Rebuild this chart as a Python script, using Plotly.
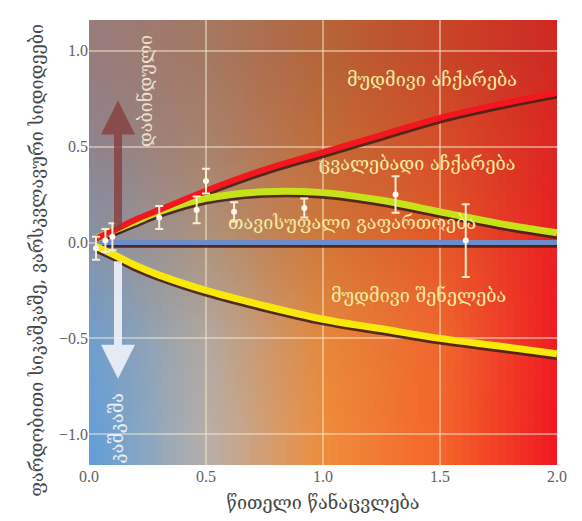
import base64
import struct
import zlib

import plotly.graph_objects as go

# ---------------- data ----------------
curve_x = [0.03, 0.1, 0.2, 0.3, 0.5, 0.75, 1.0, 1.25, 1.5, 1.75, 2.0]
const_accel = [0.02, 0.06, 0.12, 0.17, 0.27, 0.38, 0.47, 0.56, 0.65, 0.72, 0.78]
var_accel = [0.02, 0.06, 0.11, 0.16, 0.23, 0.265, 0.26, 0.22, 0.16, 0.10, 0.05]
free_exp = [0.0, 0.0, 0.0, 0.0, 0.0, 0.0, 0.0, 0.0, 0.0, 0.0, 0.0]
const_decel = [-0.02, -0.06, -0.12, -0.17, -0.25, -0.33, -0.40, -0.45, -0.50, -0.54, -0.58]

obs_x = [0.03, 0.07, 0.10, 0.30, 0.46, 0.50, 0.62, 0.92, 1.31, 1.61]
obs_y = [-0.03, 0.01, 0.03, 0.13, 0.17, 0.32, 0.16, 0.18, 0.25, 0.01]
obs_err = [0.06, 0.06, 0.07, 0.06, 0.07, 0.065, 0.05, 0.05, 0.095, 0.19]

x_ticks = [0.0, 0.5, 1.0, 1.5, 2.0]
x_ticklabels = ["0.0", "0.5", "1.0", "1.5", "2.0"]
y_ticks = [-1.0, -0.5, 0.0, 0.5, 1.0]
y_ticklabels = ["\u22121.0", "\u22120.5", "0.0", "0.5", "1.0"]

x_title = "წითელი წანაცვლება"
y_title = "ფარდობითი სიკაშკაშე, ვარსკვლავური სიდიდეები"
label_const_accel = "მუდმივი აჩქარება"
label_var_accel = "ცვალებადი აჩქარება"
label_free = "თავისუფალი გაფართოება"
label_decel = "მუდმივი შენელება"
label_dim = "დაბინდული"
label_bright = "კაშკაშა"

# ---------------- style ----------------
X_RANGE = [0, 2.0]
Y_RANGE = [-1.16, 1.16]
SHADOW = 0.014  # shadow offset in y units (~3px)

# background colour samples (rows top->bottom at y=1,0.5,0,-0.5,-1 ; cols x=0..2)
bg_rows = [
    [(152, 125, 125), (165, 120, 98), (182, 100, 56), (200, 70, 40), (208, 40, 34)],
    [(142, 132, 142), (170, 130, 108), (195, 108, 55), (215, 78, 40), (222, 36, 34)],
    [(135, 148, 170), (175, 148, 125), (212, 120, 55), (230, 88, 40), (235, 30, 35)],
    [(112, 158, 205), (180, 168, 158), (230, 135, 58), (240, 102, 45), (240, 26, 35)],
    [(100, 160, 215), (185, 175, 168), (240, 140, 58), (245, 100, 42), (240, 22, 32)],
]


def png_data_uri(rows):
    h = len(rows)
    w = len(rows[0])
    raw = b"".join(b"\x00" + bytes([v for px in row for v in px]) for row in rows)

    def chunk(tag, data):
        c = struct.pack(">I", len(data)) + tag + data
        return c + struct.pack(">I", zlib.crc32(tag + data) & 0xFFFFFFFF)

    png = (b"\x89PNG\r\n\x1a\n"
           + chunk(b"IHDR", struct.pack(">IIBBBBB", w, h, 8, 2, 0, 0, 0))
           + chunk(b"IDAT", zlib.compress(raw))
           + chunk(b"IEND", b""))
    return "data:image/png;base64," + base64.b64encode(png).decode()


fig = go.Figure()

SERIES = [
    (free_exp, "rgb(110,140,200)", 5),
    (const_decel, "rgb(250,232,10)", 7),
    (var_accel, "rgb(200,226,25)", 7),
    (const_accel, "rgb(242,22,30)", 6),
]
# dark drop shadows on the (hidden, shifted) main y axis
for ys, col, w in SERIES:
    fig.add_trace(go.Scatter(x=curve_x, y=ys, mode="lines", yaxis="y",
                             line=dict(color="rgba(70,32,22,0.9)", width=w, shape="spline"),
                             hoverinfo="skip", showlegend=False))
# coloured curves on the visible axis
for ys, col, w in SERIES:
    fig.add_trace(go.Scatter(x=curve_x, y=ys, mode="lines", yaxis="y2",
                             line=dict(color=col, width=w, shape="spline"),
                             hoverinfo="skip", showlegend=False))

fig.add_trace(go.Scatter(
    x=obs_x, y=obs_y, mode="markers", yaxis="y2",
    marker=dict(color="rgb(252,248,235)", size=6),
    error_y=dict(type="data", array=obs_err, visible=True,
                 color="rgb(245,238,205)", thickness=2, width=4),
    showlegend=False,
))

ann_font = dict(family="DejaVu Serif", size=18, color="rgb(245,235,160)")
annotations = [
    dict(x=1.466, y=0.85, text=label_const_accel, showarrow=False, font=ann_font),
    dict(x=1.40, y=0.41, text=label_var_accel, showarrow=False, font=ann_font),
    dict(x=1.124, y=0.105, text=label_free, showarrow=False, font=ann_font),
    dict(x=1.41, y=-0.275, text=label_decel, showarrow=False, font=ann_font),
    dict(x=0.245, y=0.79, text=label_dim, showarrow=False, textangle=-90,
         font=dict(family="DejaVu Serif", size=18, color="rgb(235,225,205)")),
    dict(x=0.118, y=-0.97, text=label_bright, showarrow=False, textangle=-90,
         font=dict(family="DejaVu Serif", size=18, color="rgb(235,240,245)")),
    dict(x=0.124, y=0.74, ax=0.124, ay=0.06, axref="x", ayref="y2", text="",
         showarrow=True, arrowhead=2, arrowsize=0.85, arrowwidth=8,
         arrowcolor="rgba(135,62,62,0.8)"),
    dict(x=0.124, y=-0.71, ax=0.124, ay=-0.09, axref="x", ayref="y2", text="",
         showarrow=True, arrowhead=2, arrowsize=0.85, arrowwidth=8,
         arrowcolor="rgba(240,244,250,0.9)"),
]
for a in annotations:
    a["xref"] = "x"
    a["yref"] = "y2"
annotations.append(dict(xref="paper", yref="paper", x=-0.139, y=0.46, text=y_title,
                        showarrow=False, textangle=-90,
                        font=dict(family="DejaVu Serif", size=18, color="rgb(70,70,70)")))

tick_font = dict(family="Liberation Serif", size=16, color="rgb(95,95,95)")
grid_col = "rgba(245,232,205,0.5)"

fig.update_layout(
    width=582, height=521,
    margin=dict(l=81, r=33, t=12, b=64, autoexpand=False),
    paper_bgcolor="white", plot_bgcolor="rgba(0,0,0,0)",
    showlegend=False,
    annotations=annotations,
    images=[dict(source=png_data_uri(bg_rows), xref="x", yref="y",
                 x=-0.25, y=1.25 + SHADOW, sizex=2.5, sizey=2.5, sizing="stretch",
                 xanchor="left", yanchor="top", layer="below")],
    xaxis=dict(range=X_RANGE, tickvals=x_ticks, ticktext=x_ticklabels,
               showgrid=True, gridcolor=grid_col, gridwidth=2, zeroline=False,
               tickfont=tick_font, ticks="", showline=False, autorange=False,
               title=dict(text=x_title, font=dict(family="DejaVu Serif", size=18,
                                                  color="rgb(70,70,70)"), standoff=12)),
    yaxis=dict(range=[Y_RANGE[0] + SHADOW, Y_RANGE[1] + SHADOW], visible=False,
               showgrid=False, autorange=False),
    yaxis2=dict(range=Y_RANGE, overlaying="y", side="left", anchor="x",
                tickvals=y_ticks, ticktext=y_ticklabels,
                showgrid=True, gridcolor=grid_col, gridwidth=2, zeroline=False,
                tickfont=tick_font, ticks="", showline=False, autorange=False),
)

fig.write_html("out.html")
